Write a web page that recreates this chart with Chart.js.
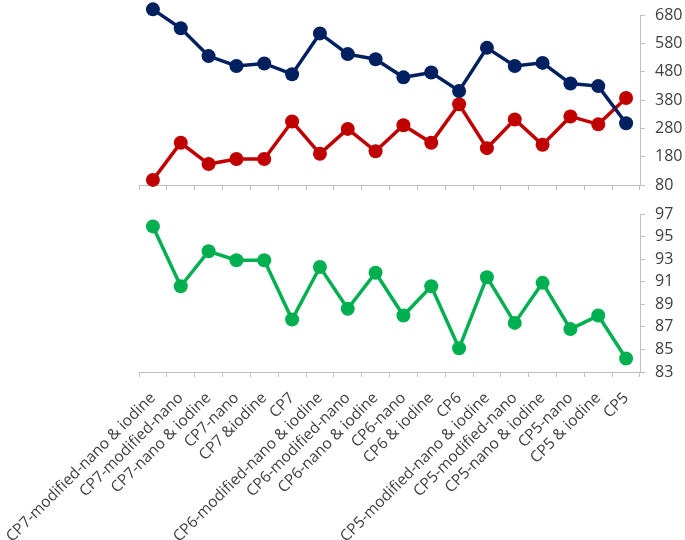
<!DOCTYPE html>
<html>
<head>
<meta charset="utf-8">
<script src="https://cdn.jsdelivr.net/npm/chart.js@4/dist/chart.umd.min.js"></script>
<style>
  html, body { margin: 0; padding: 0; background: #fff; }
  #wrap { position: relative; width: 685px; height: 540px; }
  #top-chart { position: absolute; left: 0; top: 0; }
  #bottom-chart { position: absolute; left: 0; top: 195px; }
</style>
</head>
<body>
<div id="wrap">
  <canvas id="top-chart" width="685" height="200"></canvas>
  <canvas id="bottom-chart" width="685" height="345"></canvas>
</div>
<script>
const categories = [
  "CP7-modified-nano & iodine", "CP7-modified-nano", "CP7-nano & iodine", "CP7-nano",
  "CP7 &iodine", "CP7", "CP6-modified-nano & iodine", "CP6-modified-nano",
  "CP6-nano & iodine", "CP6-nano", "CP6 & iodine", "CP6",
  "CP5-modified-nano & iodine", "CP5-modified-nano", "CP5-nano & iodine", "CP5-nano",
  "CP5 & iodine", "CP5"
];

const navySeries = [700, 633, 535, 500, 509, 471, 615, 542, 524, 460, 477, 412, 564, 500, 511, 438, 429, 298];
const redSeries = [98, 229, 154, 172, 172, 304, 190, 278, 199, 291, 229, 365, 210, 311, 222, 322, 294, 387];
const greenSeries = [95.9, 90.6, 93.7, 92.9, 92.9, 87.65, 92.3, 88.6, 91.8, 88.0, 90.6, 85.1, 91.4, 87.35, 90.9, 86.8, 88.0, 84.2];

const topTicks = [80, 180, 280, 380, 480, 580, 680];
const bottomTicks = [83, 85, 87, 89, 91, 93, 95, 97];

const axisColor = "#bfbfbf";
const textColor = "#404040";
const labelFont = { family: "'Open Sans', sans-serif", size: 15.5 };
const valueFont = { family: "'Open Sans', sans-serif", size: 16 };

function lineSet(data, color) {
  return {
    data: data,
    borderColor: color,
    backgroundColor: color,
    borderWidth: 3.5,
    pointRadius: 7,
    pointHoverRadius: 7,
    pointBorderWidth: 0,
    tension: 0,
    clip: false
  };
}

function yAxis(ticksList) {
  return {
    position: "right",
    min: ticksList[0],
    max: ticksList[ticksList.length - 1],
    afterBuildTicks(scale) {
      scale.ticks = ticksList.map(v => ({ value: v }));
    },
    afterFit(scale) {
      // fixed width, and let layout padding alone decide the plot height
      scale.width = 45;
      scale.paddingTop = 0;
      scale.paddingBottom = 0;
    },
    border: { color: axisColor, width: 1 },
    grid: { drawOnChartArea: false, drawTicks: true, tickLength: 5, color: axisColor },
    ticks: { color: textColor, font: valueFont, padding: 10 }
  };
}

const commonPlugins = {
  legend: { display: false },
  tooltip: { enabled: false }
};

new Chart(document.getElementById("top-chart"), {
  type: "line",
  data: {
    labels: categories,
    datasets: [lineSet(navySeries, "#002060"), lineSet(redSeries, "#c00000")]
  },
  options: {
    responsive: false,
    animation: false,
    layout: { padding: { left: 139, top: 15, bottom: 10, right: 0 } },
    plugins: commonPlugins,
    scales: {
      x: {
        offset: true,
        border: { color: axisColor, width: 1 },
        grid: { offset: true, drawOnChartArea: false, drawTicks: true, tickLength: 5, color: axisColor },
        ticks: { display: false }
      },
      y: yAxis(topTicks)
    }
  }
});

new Chart(document.getElementById("bottom-chart"), {
  type: "line",
  data: {
    labels: categories,
    datasets: [lineSet(greenSeries, "#00b050")]
  },
  options: {
    responsive: false,
    animation: false,
    layout: { padding: { left: 139, top: 19, bottom: 0, right: 0 } },
    plugins: commonPlugins,
    scales: {
      x: {
        offset: true,
        afterFit(scale) {
          scale.height = 168;
          scale.paddingLeft = 0;
          scale.paddingRight = 0;
        },
        border: { color: axisColor, width: 1 },
        grid: { offset: true, drawOnChartArea: false, drawTicks: true, tickLength: 5, color: axisColor },
        ticks: {
          color: textColor,
          font: labelFont,
          autoSkip: false,
          minRotation: 45,
          maxRotation: 45,
          padding: 12
        }
      },
      y: yAxis(bottomTicks)
    }
  }
});
</script>
</body>
</html>
